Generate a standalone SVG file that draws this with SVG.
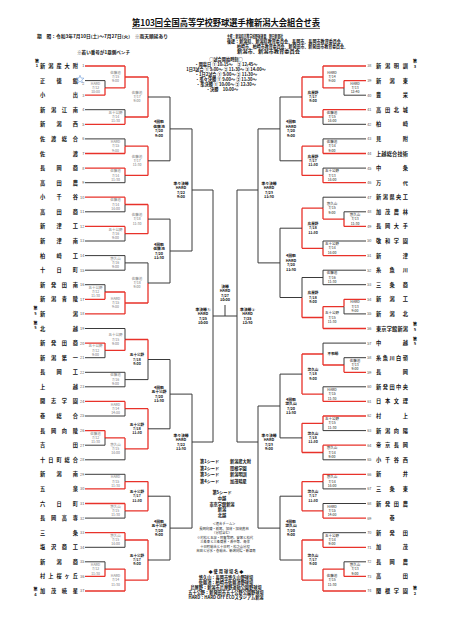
<svg xmlns="http://www.w3.org/2000/svg" width="452" height="640" viewBox="0 0 452 640">
<style>
text{font-family:"Noto Sans CJK JP","Noto Sans CJK SC",sans-serif}
.n{font-size:5.2px;font-weight:bold;fill:#111}
.no{font-size:3.8px;fill:#555}
.nol{font-size:3.8px;fill:#555;text-anchor:end}
.v{font-size:3.5px;fill:#777;text-anchor:middle}
.vd{font-size:3.5px;fill:#222;text-anchor:middle}
.vb{font-size:3.6px;fill:#222;font-weight:bold;text-anchor:middle}
.b{font-size:3.8px;fill:#111;font-weight:bold;text-anchor:middle}
.sd{font-size:4px;font-weight:bold;fill:#111;text-anchor:middle}
.h{font-size:4.2px;font-weight:bold;fill:#111}
.hc{font-size:4.2px;font-weight:bold;fill:#111;text-anchor:middle}
.j{font-size:3.3px;fill:#222;text-anchor:middle}
.r{fill:none;stroke:#e8322a;stroke-width:1.3}
.k{fill:none;stroke:#3a3a3a;stroke-width:1}
</style>
<rect width="452" height="640" fill="#fff"/>
<g id="header">
<text x="132" y="26" font-size="8.6" font-weight="bold" textLength="188" lengthAdjust="spacingAndGlyphs" fill="#111">第103回全国高等学校野球選手権新潟大会組合せ表</text>
<line x1="132" y1="28.4" x2="320" y2="28.4" stroke="#111" stroke-width="0.7"/>
<text class="h" x="37" y="37.5" textLength="131" lengthAdjust="spacingAndGlyphs">期　間：令和3年7月10日(土)～7月27日(火)　※雨天順延あり</text>
<text class="h" x="227" y="37.5" textLength="56" lengthAdjust="spacingAndGlyphs">主催：新潟県高等学校野球連盟、朝日新聞社</text>
<text class="h" x="227" y="43" textLength="118" lengthAdjust="spacingAndGlyphs">後援：新潟県、新潟県教育委員会、長岡市、長岡市教育委員会、</text>
<text class="h" x="237" y="48" textLength="111" lengthAdjust="spacingAndGlyphs">柏崎市、柏崎市教育委員会、新発田市、新発田市教育委員会、</text>
<text class="h" x="237" y="53" textLength="63" lengthAdjust="spacingAndGlyphs">新潟市、新潟市教育委員会</text>
<text class="h" x="77" y="54" textLength="53" lengthAdjust="spacingAndGlyphs">※若い番号が1塁側ベンチ</text>
</g>
<g id="schedule">
<text class="hc" x="226" y="61">○試合開始時刻○</text>
<text class="hc" x="226" y="66">・開幕日 ① 10:15～　② 12:45～</text>
<text class="hc" x="226" y="71">1日3試合 ① 9:00～ ② 11:30～ ③ 14:00～</text>
<text class="hc" x="226" y="76">・1日2試合 ① 9:00～ ② 11:30～</text>
<text class="hc" x="226" y="81">・準々決勝 ① 9:00～ ② 11:30～</text>
<text class="hc" x="226" y="86">・準決勝 ① 10:00～ ② 12:30～</text>
<text class="hc" x="222" y="91">・決勝　10:00～</text>
</g>
<g id="connectors">
<path class="r" d="M85 66H125M85 95.2H105M105 87.9V95.2M105 87.9H125M125 66V87.9M125 77H148M85 124.3H125M125 117V124.3M125 117H148M148 77V117M85 153.5H125M125 146.2V153.5M125 146.2H148M85 168.1H125M125 168.1V175.4M125 175.4H148M148 146.2V175.4M85 197.2H125M125 197.2V204.5M125 204.5H148M85 226.4H125M125 226.4V233.7M125 233.7H148M148 204.5V233.7M85 299.3H105M105 292V299.3M105 292H125M85 313.9H125M125 292V313.9M125 303H148M148 283V303M85 343.1H105M105 343.1V350.4M105 350.4H125M125 339.5V350.4M125 339.5H148M148 339.5V359.5M85 401.4H125M125 401.4V408.7M125 408.7H148M85 430.6H105M105 430.6V437.9M105 437.9H125M125 437.9V448.9M125 448.9H148M148 408.7V448.9M85 488.9H125M125 481.6V488.9M125 481.6H148M85 503.5H125M125 503.5V510.8M125 510.8H148M148 481.6V510.8M85 532.7H125M125 532.7V540M125 540H148M85 576.4H105M105 569.1V576.4M105 569.1H125M85 591H125M125 569.1V591M125 580.1H148M148 540V580.1"/>
<path class="k" d="M85 80.6H105M105 80.6V87.9M85 109.7H125M125 109.7V117M148 97H170M85 138.9H125M125 138.9V146.2M85 182.7H125M125 175.4V182.7M148 160.8H170M170 97V160.8M170 128.9H192M85 211.8H125M125 204.5V211.8M85 241H125M125 233.7V241M148 219.1H170M85 255.6H125M85 270.2H125M125 255.6V270.2M125 262.9H148M148 262.9V283M85 284.7H105M105 284.7V292M148 283H170M170 219.1V283M170 251H192M192 128.9V251M192 190H213M85 328.5H125M125 328.5V339.5M85 357.7H105M105 350.4V357.7M85 372.3H125M85 386.8H125M125 372.3V386.8M125 379.6H148M148 359.5V379.6M148 359.5H170M85 416H125M125 408.7V416M85 445.2H105M105 437.9V445.2M85 459.8H125M125 448.9V459.8M148 428.8H170M170 359.5V428.8M170 394.1H192M85 474.3H125M125 474.3V481.6M85 518.1H125M125 510.8V518.1M148 496.2H170M85 547.3H125M125 540V547.3M85 561.8H105M105 561.8V569.1M148 560H170M170 496.2V560M170 528.1H192M192 394.1V528.1M192 442H213M213 190V442M213 316H237M225 305V316"/>
<path class="r" d="M366 66H323M366 80.6H344M344 80.6V87.9M344 87.9H323M323 66V87.9M323 77H302M366 109.7H323M323 109.7V117M323 117H302M302 77V117M366 153.5H323M323 146.2V153.5M323 146.2H302M366 182.7H323M323 175.4V182.7M323 175.4H302M302 146.2V175.4M366 226.4H344M344 219.1V226.4M344 219.1H323M323 208.2V219.1M323 208.2H302M366 255.6H323M323 248.3V255.6M323 248.3H302M302 208.2V248.3M366 299.3H344M344 299.3V306.6M344 306.6H323M366 328.5H323M323 306.6V328.5M323 317.5H302M302 297.5V317.5M366 372.3H344M344 365V372.3M344 365H323M323 354V365M323 354H302M366 401.4H323M323 394.1V401.4M323 394.1H302M302 354V394.1M366 416H323M323 416V423.3M323 423.3H302M366 445.2H323M323 445.2V452.5M323 452.5H302M302 423.3V452.5M366 474.3H323M323 474.3V481.6M323 481.6H302M366 518.1H323M323 510.8V518.1M323 510.8H302M302 481.6V510.8M366 547.3H323M323 540V547.3M323 540H302M366 576.4H344M344 569.1V576.4M344 569.1H323M366 591H323M323 569.1V591M323 580.1H302M302 540V580.1"/>
<path class="k" d="M366 95.2H344M344 87.9V95.2M366 124.3H323M323 117V124.3M302 97H280M366 138.9H323M323 138.9V146.2M366 168.1H323M323 168.1V175.4M302 160.8H280M280 97V160.8M280 128.9H258M366 197.2H323M323 197.2V208.2M366 211.8H344M344 211.8V219.1M366 241H323M323 241V248.3M302 228.2H280M366 270.2H323M366 284.7H323M323 270.2V284.7M323 277.5H302M302 277.5V297.5M366 313.9H344M344 306.6V313.9M302 297.5H280M280 228.2V297.5M280 262.9H258M258 128.9V262.9M258 190H237M366 343.1H323M323 343.1V354M366 357.7H344M344 357.7V365M366 386.8H323M323 386.8V394.1M302 374.1H280M366 430.6H323M323 423.3V430.6M366 459.8H323M323 452.5V459.8M302 437.9H280M280 374.1V437.9M280 406H258M366 488.9H323M323 481.6V488.9M366 503.5H323M323 503.5V510.8M302 496.2H280M366 532.7H323M323 532.7V540M366 561.8H344M344 561.8V569.1M302 560H280M280 496.2V560M280 528.1H258M258 406V528.1M258 442H237M237 190V442"/>
</g>
<g id="teams-left">
<g id="t1"><text class="n" x="40" y="68" textLength="38" lengthAdjust="spacing">新潟産大附</text><text class="nol" x="84.3" y="67.4">1</text></g>
<g id="t2"><text class="n" x="40" y="82.6" textLength="38" lengthAdjust="spacing">正徳館</text><text class="nol" x="84.3" y="84.5">2</text><polygon points="80,75.3 81.06,78.04 83.99,78.2 81.71,80.06 82.47,82.9 80,81.3 77.53,82.9 78.29,80.06 76.01,78.2 78.94,78.04" fill="none" stroke="#6d9ad8" stroke-width="0.6"/></g>
<g id="t3"><text class="n" x="40" y="97.2" textLength="38" lengthAdjust="spacing">小出</text><text class="nol" x="84.3" y="96.6">3</text></g>
<g id="t4"><text class="n" x="40" y="111.7" textLength="38" lengthAdjust="spacing">新潟江南</text><text class="nol" x="84.3" y="111.1">4</text></g>
<g id="t5"><text class="n" x="40" y="126.3" textLength="38" lengthAdjust="spacing">新潟西</text><text class="nol" x="84.3" y="125.7">5</text></g>
<g id="t6"><text class="n" x="40" y="140.9" textLength="38" lengthAdjust="spacing">佐渡総合</text><text class="nol" x="84.3" y="140.3">6</text></g>
<g id="t7"><text class="n" x="40" y="155.5" textLength="38" lengthAdjust="spacing">佐渡</text><text class="nol" x="84.3" y="154.9">7</text></g>
<g id="t8"><text class="n" x="40" y="170.1" textLength="38" lengthAdjust="spacing">長岡商</text><text class="nol" x="84.3" y="169.5">8</text></g>
<g id="t9"><text class="n" x="40" y="184.7" textLength="38" lengthAdjust="spacing">高田農</text><text class="nol" x="84.3" y="184.1">9</text></g>
<g id="t10"><text class="n" x="40" y="199.2" textLength="38" lengthAdjust="spacing">小千谷</text><text class="nol" x="84.3" y="198.6">10</text></g>
<g id="t11"><text class="n" x="40" y="213.8" textLength="38" lengthAdjust="spacing">高田商</text><text class="nol" x="84.3" y="213.2">11</text></g>
<g id="t12"><text class="n" x="40" y="228.4" textLength="38" lengthAdjust="spacing">新津工</text><text class="nol" x="84.3" y="227.8">12</text></g>
<g id="t13"><text class="n" x="40" y="243" textLength="38" lengthAdjust="spacing">新津南</text><text class="nol" x="84.3" y="242.4">13</text></g>
<g id="t14"><text class="n" x="40" y="257.6" textLength="38" lengthAdjust="spacing">柏崎工</text><text class="nol" x="84.3" y="257">14</text></g>
<g id="t15"><text class="n" x="40" y="272.2" textLength="38" lengthAdjust="spacing">十日町</text><text class="nol" x="84.3" y="271.6">15</text></g>
<g id="t16"><text class="n" x="40" y="286.7" textLength="38" lengthAdjust="spacing">新発田南</text><text class="nol" x="84.3" y="286.1">16</text></g>
<g id="t17"><text class="n" x="40" y="301.3" textLength="38" lengthAdjust="spacing">新潟青陵</text><text class="nol" x="84.3" y="300.7">17</text></g>
<g id="t18"><text class="n" x="40" y="315.9" textLength="38" lengthAdjust="spacing">新潟</text><text class="nol" x="84.3" y="315.3">18</text><text class="sd" x="35.5" y="310">第</text><text class="sd" x="35.5" y="314.5">5</text></g>
<g id="t19"><text class="n" x="40" y="330.5" textLength="38" lengthAdjust="spacing">北越</text><text class="nol" x="84.3" y="329.9">19</text><text class="sd" x="35.5" y="324.5">第</text><text class="sd" x="35.5" y="329">5</text></g>
<g id="t20"><text class="n" x="40" y="345.1" textLength="38" lengthAdjust="spacing">新発田商</text><text class="nol" x="84.3" y="344.5">20</text></g>
<g id="t21"><text class="n" x="40" y="359.7" textLength="38" lengthAdjust="spacing">新潟第一</text><text class="nol" x="84.3" y="359.1">21</text></g>
<g id="t22"><text class="n" x="40" y="374.3" textLength="38" lengthAdjust="spacing">長岡工</text><text class="nol" x="84.3" y="373.7">22</text></g>
<g id="t23"><text class="n" x="40" y="388.8" textLength="38" lengthAdjust="spacing">上越</text><text class="nol" x="84.3" y="388.2">23</text></g>
<g id="t24"><text class="n" x="40" y="403.4" textLength="38" lengthAdjust="spacing">開志学園</text><text class="nol" x="84.3" y="402.8">24</text></g>
<g id="t25"><text class="n" x="40" y="418" textLength="38" lengthAdjust="spacing">巻総合</text><text class="nol" x="84.3" y="417.4">25</text></g>
<g id="t26"><text class="n" x="40" y="432.6" textLength="38" lengthAdjust="spacing">長岡向陵</text><text class="nol" x="84.3" y="432">26</text></g>
<g id="t27"><text class="n" x="40" y="447.2" textLength="38" lengthAdjust="spacing">吉田</text><text class="nol" x="84.3" y="446.6">27</text></g>
<g id="t28"><text class="n" x="40" y="461.8" textLength="38" lengthAdjust="spacing">十日町総合</text><text class="nol" x="84.3" y="461.2">28</text></g>
<g id="t29"><text class="n" x="40" y="476.3" textLength="38" lengthAdjust="spacing">新潟南</text><text class="nol" x="84.3" y="475.7">29</text></g>
<g id="t30"><text class="n" x="40" y="490.9" textLength="38" lengthAdjust="spacing">五泉</text><text class="nol" x="84.3" y="490.3">30</text></g>
<g id="t31"><text class="n" x="40" y="505.5" textLength="38" lengthAdjust="spacing">六日町</text><text class="nol" x="84.3" y="504.9">31</text></g>
<g id="t32"><text class="n" x="40" y="520.1" textLength="38" lengthAdjust="spacing">長岡高専</text><text class="nol" x="84.3" y="519.5">32</text></g>
<g id="t33"><text class="n" x="40" y="534.7" textLength="38" lengthAdjust="spacing">三条</text><text class="nol" x="84.3" y="534.1">33</text></g>
<g id="t34"><text class="n" x="40" y="549.3" textLength="38" lengthAdjust="spacing">塩沢商工</text><text class="nol" x="84.3" y="548.7">34</text></g>
<g id="t35"><text class="n" x="40" y="563.8" textLength="38" lengthAdjust="spacing">新潟商</text><text class="nol" x="84.3" y="563.2">35</text></g>
<g id="t36"><text class="n" x="40" y="578.4" textLength="38" lengthAdjust="spacing">村上桜ヶ丘</text><text class="nol" x="84.3" y="577.8">36</text></g>
<g id="t37"><text class="n" x="40" y="593" textLength="38" lengthAdjust="spacing">加茂暁星</text><text class="nol" x="84.3" y="592.4">37</text><text class="sd" x="35.5" y="591">第</text><text class="sd" x="35.5" y="595.5">4</text></g>
<g id="seed1"><text class="sd" x="37" y="62.5">第</text><text class="sd" x="37" y="67">1</text></g>
</g>
<g id="teams-right">
<g id="t38"><text class="no" x="367.2" y="67.4">38</text><text class="n" x="376" y="68" textLength="32" lengthAdjust="spacing">新潟明訓</text><text class="sd" x="415" y="63">第</text><text class="sd" x="415" y="67.5">3</text></g>
<g id="t39"><text class="no" x="367.2" y="82">39</text><text class="n" x="376" y="82.6" textLength="32" lengthAdjust="spacing">新潟東</text></g>
<g id="t40"><text class="no" x="367.2" y="96.6">40</text><text class="n" x="376" y="97.2" textLength="32" lengthAdjust="spacing">豊栄</text></g>
<g id="t41"><text class="no" x="367.2" y="111.1">41</text><text class="n" x="376" y="111.7" textLength="32" lengthAdjust="spacing">高田北城</text></g>
<g id="t42"><text class="no" x="367.2" y="125.7">42</text><text class="n" x="376" y="126.3" textLength="32" lengthAdjust="spacing">柏崎</text></g>
<g id="t43"><text class="no" x="367.2" y="140.3">43</text><text class="n" x="376" y="140.9" textLength="32" lengthAdjust="spacing">見附</text></g>
<g id="t44"><text class="no" x="367.2" y="154.9">44</text><text class="n" x="376" y="155.5" textLength="32" lengthAdjust="spacing">上越総合技術</text></g>
<g id="t45"><text class="no" x="367.2" y="169.5">45</text><text class="n" x="376" y="170.1" textLength="32" lengthAdjust="spacing">中条</text></g>
<g id="t46"><text class="no" x="367.2" y="184.1">46</text><text class="n" x="376" y="184.7" textLength="32" lengthAdjust="spacing">万代</text></g>
<g id="t47"><text class="no" x="367.2" y="198.6">47</text><text class="n" x="376" y="199.2" textLength="32" lengthAdjust="spacing">新潟県央工</text></g>
<g id="t48"><text class="no" x="367.2" y="213.2">48</text><text class="n" x="376" y="213.8" textLength="32" lengthAdjust="spacing">加茂農林</text></g>
<g id="t49"><text class="no" x="367.2" y="227.8">49</text><text class="n" x="376" y="228.4" textLength="32" lengthAdjust="spacing">長岡大手</text></g>
<g id="t50"><text class="no" x="367.2" y="242.4">50</text><text class="n" x="376" y="243" textLength="32" lengthAdjust="spacing">敬和学園</text></g>
<g id="t51"><text class="no" x="367.2" y="257">51</text><text class="n" x="376" y="257.6" textLength="32" lengthAdjust="spacing">新津</text></g>
<g id="t52"><text class="no" x="367.2" y="271.6">52</text><text class="n" x="376" y="272.2" textLength="32" lengthAdjust="spacing">糸魚川</text></g>
<g id="t53"><text class="no" x="367.2" y="286.1">53</text><text class="n" x="376" y="286.7" textLength="32" lengthAdjust="spacing">三条商</text></g>
<g id="t54"><text class="no" x="367.2" y="300.7">54</text><text class="n" x="376" y="301.3" textLength="32" lengthAdjust="spacing">新潟工</text></g>
<g id="t55"><text class="no" x="367.2" y="315.3">55</text><text class="n" x="376" y="315.9" textLength="32" lengthAdjust="spacing">新潟北</text></g>
<g id="t56"><text class="no" x="367.2" y="329.9">56</text><text class="n" x="376" y="330.5" textLength="32" lengthAdjust="spacing">東京学館新潟</text><text class="sd" x="415" y="326">第</text><text class="sd" x="415" y="330.5">5</text></g>
<g id="t57"><text class="no" x="367.2" y="344.5">57</text><text class="n" x="376" y="345.1" textLength="32" lengthAdjust="spacing">中越</text><text class="sd" x="415" y="340.5">第</text><text class="sd" x="415" y="345">5</text></g>
<g id="t58"><text class="no" x="367.2" y="359.1">58</text><text class="n" x="376" y="359.7" textLength="32" lengthAdjust="spacing">糸魚川白嶺</text></g>
<g id="t59"><text class="no" x="367.2" y="373.7">59</text><text class="n" x="376" y="374.3" textLength="32" lengthAdjust="spacing">長岡</text></g>
<g id="t60"><text class="no" x="367.2" y="388.2">60</text><text class="n" x="376" y="388.8" textLength="32" lengthAdjust="spacing">新発田中央</text></g>
<g id="t61"><text class="no" x="367.2" y="402.8">61</text><text class="n" x="376" y="403.4" textLength="32" lengthAdjust="spacing">日本文理</text></g>
<g id="t62"><text class="no" x="367.2" y="417.4">62</text><text class="n" x="376" y="418" textLength="32" lengthAdjust="spacing">村上</text></g>
<g id="t63"><text class="no" x="367.2" y="432">63</text><text class="n" x="376" y="432.6" textLength="32" lengthAdjust="spacing">新潟向陽</text></g>
<g id="t64"><text class="no" x="367.2" y="446.6">64</text><text class="n" x="376" y="447.2" textLength="32" lengthAdjust="spacing">帝京長岡</text></g>
<g id="t65"><text class="no" x="367.2" y="461.2">65</text><text class="n" x="376" y="461.8" textLength="32" lengthAdjust="spacing">小千谷西</text></g>
<g id="t66"><text class="no" x="367.2" y="475.7">66</text><text class="n" x="376" y="476.3" textLength="32" lengthAdjust="spacing">新井</text></g>
<g id="t67"><text class="no" x="367.2" y="490.3">67</text><text class="n" x="376" y="490.9" textLength="32" lengthAdjust="spacing">三条東</text></g>
<g id="t68"><text class="no" x="367.2" y="504.9">68</text><text class="n" x="376" y="505.5" textLength="32" lengthAdjust="spacing">新発田農</text></g>
<g id="t69"><text class="no" x="367.2" y="519.5">69</text><text class="n" x="392" y="520.1" text-anchor="middle">巻</text></g>
<g id="t70"><text class="no" x="367.2" y="534.1">70</text><text class="n" x="376" y="534.7" textLength="32" lengthAdjust="spacing">新発田</text></g>
<g id="t71"><text class="no" x="367.2" y="548.7">71</text><text class="n" x="376" y="549.3" textLength="32" lengthAdjust="spacing">加茂</text></g>
<g id="t72"><text class="no" x="367.2" y="563.2">72</text><text class="n" x="376" y="563.8" textLength="32" lengthAdjust="spacing">長岡農</text></g>
<g id="t73"><text class="no" x="367.2" y="577.8">73</text><text class="n" x="376" y="578.4" textLength="32" lengthAdjust="spacing">高田</text></g>
<g id="t74"><text class="no" x="367.2" y="592.4">74</text><text class="n" x="376" y="593" textLength="32" lengthAdjust="spacing">関根学園</text><text class="sd" x="415" y="590">第</text><text class="sd" x="415" y="594.5">2</text></g>
</g>
<g id="matches-left">
<text class="v" x="95.5" y="84.7"><tspan x="95.5">HARD</tspan><tspan x="95.5" dy="4.3">7/12</tspan><tspan x="95.5" dy="4.3">10:00</tspan></text>
<text class="v" x="115.5" y="73.8"><tspan x="115.5">佐藤池</tspan><tspan x="115.5" dy="4.3">7/15</tspan><tspan x="115.5" dy="4.3">9:00</tspan></text>
<text class="v" x="115.5" y="113.8"><tspan x="115.5">五十公野</tspan><tspan x="115.5" dy="4.3">7/14</tspan><tspan x="115.5" dy="4.3">11:30</tspan></text>
<text class="v" x="137" y="93.8"><tspan x="137">佐藤池</tspan><tspan x="137" dy="4.3">7/17</tspan><tspan x="137" dy="4.3">9:00</tspan></text>
<text class="v" x="115.5" y="143"><tspan x="115.5">HARD</tspan><tspan x="115.5" dy="4.3">7/15</tspan><tspan x="115.5" dy="4.3">9:00</tspan></text>
<text class="v" x="115.5" y="172.2"><tspan x="115.5">佐藤池</tspan><tspan x="115.5" dy="4.3">7/14</tspan><tspan x="115.5" dy="4.3">11:30</tspan></text>
<text class="v" x="137" y="157.6"><tspan x="137">佐藤池</tspan><tspan x="137" dy="4.3">7/17</tspan><tspan x="137" dy="4.3">11:30</tspan></text>
<text class="v" x="115.5" y="201.3"><tspan x="115.5">佐藤池</tspan><tspan x="115.5" dy="4.3">7/14</tspan><tspan x="115.5" dy="4.3">14:00</tspan></text>
<text class="v" x="115.5" y="230.5"><tspan x="115.5">五十公野</tspan><tspan x="115.5" dy="4.3">7/16</tspan><tspan x="115.5" dy="4.3">9:00</tspan></text>
<text class="v" x="137" y="215.9"><tspan x="137">佐藤池</tspan><tspan x="137" dy="4.3">7/18</tspan><tspan x="137" dy="4.3">11:30</tspan></text>
<text class="v" x="115.5" y="259.7"><tspan x="115.5">悠久山</tspan><tspan x="115.5" dy="4.3">7/16</tspan><tspan x="115.5" dy="4.3">9:00</tspan></text>
<text class="v" x="95.5" y="288.8"><tspan x="95.5">五十公野</tspan><tspan x="95.5" dy="4.3">7/12</tspan><tspan x="95.5" dy="4.3">11:30</tspan></text>
<text class="v" x="115.5" y="299.8"><tspan x="115.5">HARD</tspan><tspan x="115.5" dy="4.3">7/15</tspan><tspan x="115.5" dy="4.3">9:00</tspan></text>
<text class="v" x="137" y="279.8"><tspan x="137">佐藤池</tspan><tspan x="137" dy="4.3">7/18</tspan><tspan x="137" dy="4.3">9:00</tspan></text>
<text class="v" x="95.5" y="347.2"><tspan x="95.5">五十公野</tspan><tspan x="95.5" dy="4.3">7/12</tspan><tspan x="95.5" dy="4.3">9:00</tspan></text>
<text class="v" x="115.5" y="336.3"><tspan x="115.5">五十公野</tspan><tspan x="115.5" dy="4.3">7/15</tspan><tspan x="115.5" dy="4.3">9:00</tspan></text>
<text class="v" x="115.5" y="376.4"><tspan x="115.5">佐藤池</tspan><tspan x="115.5" dy="4.3">7/16</tspan><tspan x="115.5" dy="4.3">9:00</tspan></text>
<text class="vb" x="137" y="356.3"><tspan x="137">五十公野</tspan><tspan x="137" dy="4.3">7/18</tspan><tspan x="137" dy="4.3">9:00</tspan></text>
<text class="v" x="115.5" y="405.5"><tspan x="115.5">HARD</tspan><tspan x="115.5" dy="4.3">7/14</tspan><tspan x="115.5" dy="4.3">14:00</tspan></text>
<text class="v" x="95.5" y="434.7"><tspan x="95.5">佐藤池</tspan><tspan x="95.5" dy="4.3">7/12</tspan><tspan x="95.5" dy="4.3">11:30</tspan></text>
<text class="v" x="115.5" y="445.7"><tspan x="115.5">悠久山</tspan><tspan x="115.5" dy="4.3">7/15</tspan><tspan x="115.5" dy="4.3">14:00</tspan></text>
<text class="vb" x="137" y="425.6"><tspan x="137">五十公野</tspan><tspan x="137" dy="4.3">7/18</tspan><tspan x="137" dy="4.3">11:30</tspan></text>
<text class="v" x="115.5" y="478.4"><tspan x="115.5">HARD</tspan><tspan x="115.5" dy="4.3">7/15</tspan><tspan x="115.5" dy="4.3">11:30</tspan></text>
<text class="v" x="115.5" y="507.6"><tspan x="115.5">悠久山</tspan><tspan x="115.5" dy="4.3">7/15</tspan><tspan x="115.5" dy="4.3">11:30</tspan></text>
<text class="vb" x="137" y="493"><tspan x="137">五十公野</tspan><tspan x="137" dy="4.3">7/17</tspan><tspan x="137" dy="4.3">11:30</tspan></text>
<text class="v" x="115.5" y="536.8"><tspan x="115.5">悠久山</tspan><tspan x="115.5" dy="4.3">7/15</tspan><tspan x="115.5" dy="4.3">14:00</tspan></text>
<text class="v" x="95.5" y="565.9"><tspan x="95.5">HARD</tspan><tspan x="95.5" dy="4.3">7/12</tspan><tspan x="95.5" dy="4.3">11:30</tspan></text>
<text class="v" x="115.5" y="576.9"><tspan x="115.5">HARD</tspan><tspan x="115.5" dy="4.3">7/14</tspan><tspan x="115.5" dy="4.3">11:30</tspan></text>
<text class="vb" x="137" y="556.8"><tspan x="137">五十公野</tspan><tspan x="137" dy="4.3">7/17</tspan><tspan x="137" dy="4.3">9:00</tspan></text>
<text class="b" x="159" y="123.4"><tspan x="159">4回戦</tspan><tspan x="159" dy="4.5">佐藤池</tspan><tspan x="159" dy="4.5">7/20</tspan><tspan x="159" dy="4.5">9:00</tspan></text>
<text class="b" x="159" y="245.5"><tspan x="159">4回戦</tspan><tspan x="159" dy="4.5">佐藤池</tspan><tspan x="159" dy="4.5">7/20</tspan><tspan x="159" dy="4.5">11:30</tspan></text>
<text class="b" x="159" y="388.6"><tspan x="159">4回戦</tspan><tspan x="159" dy="4.5">五十公野</tspan><tspan x="159" dy="4.5">7/20</tspan><tspan x="159" dy="4.5">11:30</tspan></text>
<text class="b" x="159" y="522.6"><tspan x="159">4回戦</tspan><tspan x="159" dy="4.5">五十公野</tspan><tspan x="159" dy="4.5">7/20</tspan><tspan x="159" dy="4.5">9:00</tspan></text>
<text class="b" x="181" y="184.5"><tspan x="181">準々決勝</tspan><tspan x="181" dy="4.5">HARD</tspan><tspan x="181" dy="4.5">7/22</tspan><tspan x="181" dy="4.5">9:00</tspan></text>
<text class="b" x="181" y="436.5"><tspan x="181">準々決勝</tspan><tspan x="181" dy="4.5">HARD</tspan><tspan x="181" dy="4.5">7/22</tspan><tspan x="181" dy="4.5">11:30</tspan></text>
<text class="b" x="203" y="310.5"><tspan x="203">準決勝①</tspan><tspan x="203" dy="4.5">HARD</tspan><tspan x="203" dy="4.5">7/25</tspan><tspan x="203" dy="4.5">10:00</tspan></text>
</g>
<g id="final">
<text class="b" x="225" y="287.5"><tspan x="225">決勝</tspan><tspan x="225" dy="4.5">HARD</tspan><tspan x="225" dy="4.5">7/27</tspan><tspan x="225" dy="4.5">10:00</tspan></text>
</g>
<g id="matches-right">
<text class="vd" x="355" y="84.7"><tspan x="355">HARD</tspan><tspan x="355" dy="4.3">7/13</tspan><tspan x="355" dy="4.3">12:40</tspan></text>
<text class="vd" x="332" y="73.8"><tspan x="332">HARD</tspan><tspan x="332" dy="4.3">7/14</tspan><tspan x="332" dy="4.3">9:00</tspan></text>
<text class="vd" x="332" y="113.8"><tspan x="332">佐藤池</tspan><tspan x="332" dy="4.3">7/15</tspan><tspan x="332" dy="4.3">14:00</tspan></text>
<text class="vb" x="313" y="93.8"><tspan x="313">鳥屋野</tspan><tspan x="313" dy="4.3">7/17</tspan><tspan x="313" dy="4.3">9:00</tspan></text>
<text class="vd" x="332" y="143"><tspan x="332">佐藤池</tspan><tspan x="332" dy="4.3">7/14</tspan><tspan x="332" dy="4.3">9:00</tspan></text>
<text class="vd" x="332" y="172.2"><tspan x="332">五十公野</tspan><tspan x="332" dy="4.3">7/13</tspan><tspan x="332" dy="4.3">14:00</tspan></text>
<text class="vb" x="313" y="157.6"><tspan x="313">鳥屋野</tspan><tspan x="313" dy="4.3">7/17</tspan><tspan x="313" dy="4.3">11:30</tspan></text>
<text class="vd" x="355" y="215.9"><tspan x="355">悠久山</tspan><tspan x="355" dy="4.3">7/13</tspan><tspan x="355" dy="4.3">11:30</tspan></text>
<text class="vd" x="332" y="205"><tspan x="332">悠久山</tspan><tspan x="332" dy="4.3">7/15</tspan><tspan x="332" dy="4.3">9:00</tspan></text>
<text class="vd" x="332" y="245.1"><tspan x="332">五十公野</tspan><tspan x="332" dy="4.3">7/14</tspan><tspan x="332" dy="4.3">14:00</tspan></text>
<text class="vb" x="313" y="225"><tspan x="313">鳥屋野</tspan><tspan x="313" dy="4.3">7/18</tspan><tspan x="313" dy="4.3">11:30</tspan></text>
<text class="vd" x="332" y="274.3"><tspan x="332">佐藤池</tspan><tspan x="332" dy="4.3">7/16</tspan><tspan x="332" dy="4.3">11:30</tspan></text>
<text class="vd" x="355" y="303.4"><tspan x="355">HARD</tspan><tspan x="355" dy="4.3">7/13</tspan><tspan x="355" dy="4.3">9:00</tspan></text>
<text class="vd" x="332" y="314.3"><tspan x="332">五十公野</tspan><tspan x="332" dy="4.3">7/15</tspan><tspan x="332" dy="4.3">11:30</tspan></text>
<text class="vb" x="313" y="294.3"><tspan x="313">鳥屋野</tspan><tspan x="313" dy="4.3">7/18</tspan><tspan x="313" dy="4.3">9:00</tspan></text>
<text class="vd" x="355" y="361.8"><tspan x="355">佐藤池</tspan><tspan x="355" dy="4.3">7/13</tspan><tspan x="355" dy="4.3">9:00</tspan></text>
<text class="vb" x="333" y="355.3">不戦勝</text>
<text class="vd" x="332" y="390.9"><tspan x="332">HARD</tspan><tspan x="332" dy="4.3">7/15</tspan><tspan x="332" dy="4.3">11:30</tspan></text>
<text class="vb" x="313" y="370.9"><tspan x="313">悠久山</tspan><tspan x="313" dy="4.3">7/18</tspan><tspan x="313" dy="4.3">9:00</tspan></text>
<text class="vd" x="332" y="420.1"><tspan x="332">五十公野</tspan><tspan x="332" dy="4.3">7/15</tspan><tspan x="332" dy="4.3">11:30</tspan></text>
<text class="vd" x="332" y="449.3"><tspan x="332">悠久山</tspan><tspan x="332" dy="4.3">7/14</tspan><tspan x="332" dy="4.3">9:00</tspan></text>
<text class="vb" x="313" y="434.7"><tspan x="313">悠久山</tspan><tspan x="313" dy="4.3">7/18</tspan><tspan x="313" dy="4.3">11:30</tspan></text>
<text class="vd" x="332" y="478.4"><tspan x="332">悠久山</tspan><tspan x="332" dy="4.3">7/14</tspan><tspan x="332" dy="4.3">14:00</tspan></text>
<text class="vd" x="332" y="507.6"><tspan x="332">HARD</tspan><tspan x="332" dy="4.3">7/15</tspan><tspan x="332" dy="4.3">14:00</tspan></text>
<text class="vb" x="313" y="493"><tspan x="313">悠久山</tspan><tspan x="313" dy="4.3">7/17</tspan><tspan x="313" dy="4.3">11:30</tspan></text>
<text class="vd" x="332" y="536.8"><tspan x="332">五十公野</tspan><tspan x="332" dy="4.3">7/14</tspan><tspan x="332" dy="4.3">9:00</tspan></text>
<text class="vd" x="355" y="565.9"><tspan x="355">悠久山</tspan><tspan x="355" dy="4.3">7/13</tspan><tspan x="355" dy="4.3">9:00</tspan></text>
<text class="vd" x="332" y="576.9"><tspan x="332">佐藤池</tspan><tspan x="332" dy="4.3">7/15</tspan><tspan x="332" dy="4.3">11:30</tspan></text>
<text class="vb" x="313" y="556.8"><tspan x="313">悠久山</tspan><tspan x="313" dy="4.3">7/17</tspan><tspan x="313" dy="4.3">9:00</tspan></text>
<text class="b" x="291" y="123.4"><tspan x="291">4回戦</tspan><tspan x="291" dy="4.5">HARD</tspan><tspan x="291" dy="4.5">7/20</tspan><tspan x="291" dy="4.5">9:00</tspan></text>
<text class="b" x="291" y="257.4"><tspan x="291">4回戦</tspan><tspan x="291" dy="4.5">HARD</tspan><tspan x="291" dy="4.5">7/20</tspan><tspan x="291" dy="4.5">11:30</tspan></text>
<text class="b" x="291" y="400.5"><tspan x="291">4回戦</tspan><tspan x="291" dy="4.5">悠久山</tspan><tspan x="291" dy="4.5">7/20</tspan><tspan x="291" dy="4.5">11:30</tspan></text>
<text class="b" x="291" y="522.6"><tspan x="291">4回戦</tspan><tspan x="291" dy="4.5">悠久山</tspan><tspan x="291" dy="4.5">7/20</tspan><tspan x="291" dy="4.5">9:00</tspan></text>
<text class="b" x="269" y="184.5"><tspan x="269">準々決勝</tspan><tspan x="269" dy="4.5">HARD</tspan><tspan x="269" dy="4.5">7/23</tspan><tspan x="269" dy="4.5">11:30</tspan></text>
<text class="b" x="269" y="436.5"><tspan x="269">準々決勝</tspan><tspan x="269" dy="4.5">HARD</tspan><tspan x="269" dy="4.5">7/23</tspan><tspan x="269" dy="4.5">9:00</tspan></text>
<text class="b" x="247.5" y="310.5"><tspan x="247.5">準決勝②</tspan><tspan x="247.5" dy="4.5">HARD</tspan><tspan x="247.5" dy="4.5">7/25</tspan><tspan x="247.5" dy="4.5">12:30</tspan></text>
</g>
<g id="seeds">
<text class="h" x="200" y="463">第1シード</text><text class="h" x="230" y="463">新潟産大附</text>
<text class="h" x="200" y="469.5">第2シード</text><text class="h" x="230" y="469.5">関根学園</text>
<text class="h" x="200" y="476">第3シード</text><text class="h" x="230" y="476">新潟明訓</text>
<text class="h" x="200" y="482.5">第4シード</text><text class="h" x="230" y="482.5">加茂暁星</text>
<text class="hc" x="222" y="494">第5シード</text>
<text class="hc" x="222" y="500">中越</text>
<text class="hc" x="222" y="505.5">東京学館新潟</text>
<text class="hc" x="222" y="511">新潟</text>
<text class="hc" x="222" y="516.5">北越</text>
</g>
<g id="joint-teams">
<text class="j" x="224" y="525">＜連合チーム＞</text>
<text class="j" x="224" y="529.5">長岡向陵・栃尾、加茂・加茂農林</text>
<text class="j" x="222" y="534">（分校含む）</text>
<text class="j" x="225" y="538.5">※村松と五泉・阿賀黎明、安塚と松代</text>
<text class="j" x="225" y="543">三条東と三条商業・燕中等、海洋</text>
<text class="j" x="225" y="547.5">十日町総合と十日町・松之山分校</text>
<text class="j" x="226" y="552">吉田と分水・巻総合、新潟向陽・新津南</text>
</g>
<g id="venues">
<text class="hc" x="226" y="573">◆ 使 用 球 場 名 ◆</text>
<text class="hc" x="226" y="578.5">悠久山：長岡市悠久山野球場</text>
<text class="hc" x="226" y="583.5">佐藤池：柏崎市佐藤池野球場</text>
<text class="hc" x="226" y="588.5">鳥屋野：新潟市鳥屋野運動公園野球場</text>
<text class="hc" x="226" y="593.5">五十公野：新発田市五十公野公園野球場</text>
<text class="hc" x="226" y="598.5">HARD：HARD OFF ECOスタジアム新潟</text>
</g>
</svg>
